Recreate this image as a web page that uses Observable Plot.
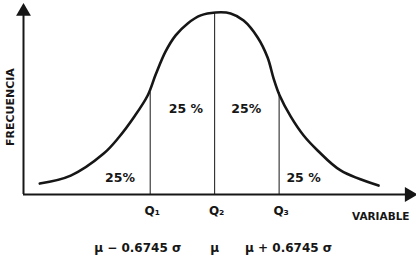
<!DOCTYPE html>
<html>
<head>
<meta charset="utf-8">
<script src="https://cdn.jsdelivr.net/npm/d3@7"></script>
<script src="https://cdn.jsdelivr.net/npm/@observablehq/plot@0.6"></script>
<style>
  html, body { margin: 0; padding: 0; background: #fff; }
  svg { display: block; }
</style>
</head>
<body>
<div id="chart"></div>
<script>
// Curve: x in σ units around μ, y = relative frequency (peak = 1)
const curveZ = [-1.83, -1.506, -1.161, -1.004, -0.847, -0.701, -0.617, -0.513, -0.408, -0.282, -0.146, 0.01, 0.167, 0.303, 0.45, 0.554, 0.617, 0.68, 0.795, 0.931, 1.077, 1.318, 1.715];
const curveF = [0.06, 0.104, 0.225, 0.313, 0.423, 0.544, 0.659, 0.786, 0.874, 0.94, 0.984, 1.0, 0.995, 0.956, 0.863, 0.753, 0.637, 0.544, 0.429, 0.324, 0.242, 0.132, 0.049];

// Quartiles
const quartileNames = ["Q₁", "Q₂", "Q₃"];
const quartileZ = [-0.6745, 0, 0.6745];
const quartileF = [0.56, 1.0, 0.56];

// Formula row under the axis (centres, σ units)
const formulas = ["μ − 0.6745 σ", "μ", "μ + 0.6745 σ"];
const formulaZ = [-0.805, 0.0, 0.774];

// Area labels
const areaLabels = ["25%", "25 %", "25%", "25 %"];
const areaZ = [-0.99, -0.30, 0.33, 0.93];
const areaF = [0.088, 0.47, 0.47, 0.088];

const xTitle = "VARIABLE";
const yTitle = "FRECUENCIA";

const curve = curveZ.map((z, i) => ({z, f: curveF[i]}));
const quartiles = quartileNames.map((n, i) => ({name: n, z: quartileZ[i], f: quartileF[i]}));
const formulaRows = formulas.map((t, i) => ({t, z: formulaZ[i]}));
const areas = areaLabels.map((t, i) => ({t, z: areaZ[i], f: areaF[i]}));

const xMin = -2, xMax = 2.07, yTop = 1.04;
const font = "DejaVu Sans, sans-serif";
const ink = "#161616";

const chart = Plot.plot({
  width: 416,
  height: 266,
  marginLeft: 23,
  marginRight: 4,
  marginTop: 12,
  marginBottom: 72,
  x: {domain: [xMin, xMax], axis: null},
  y: {domain: [0, 1], axis: null},
  style: {fontFamily: font, background: "#fff", overflow: "visible"},
  marks: [
    // axes
    Plot.ruleY([0], {x1: xMin, x2: xMax - 0.04, stroke: ink, strokeWidth: 2}),
    Plot.ruleX([xMin], {y1: 0, y2: yTop - 0.04, stroke: ink, strokeWidth: 2}),
    Plot.dot([{x: xMin, y: yTop - 0.035}], {x: "x", y: "y", symbol: "triangle", r: 5.5, fill: ink, stroke: null}),
    Plot.dot([{x: xMax - 0.035, y: 0}], {x: "x", y: "y", symbol: "triangle", r: 5.5, fill: ink, stroke: null, rotate: 90}),
    // quartile lines
    Plot.ruleX(quartiles, {x: "z", y1: 0, y2: "f", stroke: ink, strokeWidth: 1}),
    // curve
    Plot.line(curve, {x: "z", y: "f", curve: "catmull-rom", stroke: ink, strokeWidth: 2.6}),
    // area labels
    Plot.text(areas, {x: "z", y: "f", text: "t", fontSize: 12.5, fontWeight: "bold", fill: ink}),
    // quartile tick labels
    Plot.text(quartiles, {x: "z", y: 0, text: "name", dy: 17, dx: 2, fontSize: 12, fontWeight: "bold", fill: ink}),
    // formulas
    Plot.text(formulaRows, {x: "z", y: 0, text: "t", dy: 54, fontSize: 12, fontWeight: "bold", fill: ink}),
    // axis titles
    Plot.text([xTitle], {x: xMax, y: 0, text: (d) => d, textAnchor: "end", dy: 22, dx: -3, fontSize: 10.5, fontWeight: "bold", fill: ink}),
    Plot.text([yTitle], {x: xMin, y: 0.48, text: (d) => d, rotate: -90, dx: -13, fontSize: 11, fontWeight: "bold", fill: ink})
  ]
});
document.getElementById("chart").appendChild(chart);
</script>
</body>
</html>
